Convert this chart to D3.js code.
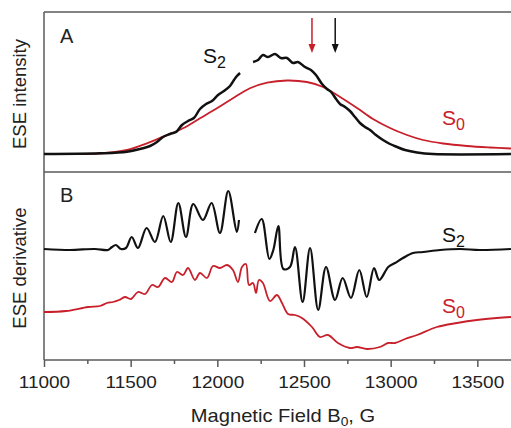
<!DOCTYPE html>
<html>
<head>
<meta charset="utf-8">
<script src="https://cdn.jsdelivr.net/npm/d3@7"></script>
<style>
  body { margin: 0; background: #fff; }
  text { font-family: "Liberation Sans", Arial, sans-serif; }
</style>
</head>
<body>
<svg width="511" height="428"></svg>
<script>
// panel A: ESE intensity (absorption)
var fieldS2A = [11000,11323,11479,11571,11612,11652,11687,11727,11762,11796,11831,11865,11900,11935,11969,12004,12038,12073,12096,12113,12131,
    12170,
    12206,12235,12263,12292,12333,12367,12402,12437,12465,12506,12540,12569,12604,12633,12656,12685,12708,12737,12765,12794,
    12823,12852,12881,12915,12956,12996,13037,13083,13152,13244,13694];
var intS2A = [0,0.007,0.023,0.057,0.08,0.12,0.17,0.20,0.22,0.29,0.33,0.36,0.45,0.50,0.53,0.59,0.63,0.68,0.74,0.78,0.81,
    null,
    0.92,0.94,0.99,0.97,1.00,0.96,0.96,0.91,0.92,0.87,0.84,0.79,0.70,0.65,0.62,0.55,0.50,0.47,0.43,0.37,
    0.31,0.27,0.24,0.19,0.14,0.10,0.07,0.04,0.015,0,0];

var fieldS0A = [11000,11323,11479,11594,11687,11802,11900,11998,12090,12188,12287,12402,12517,12610,12708,12806,12898,12996,13094,13187,13302,13440,13573,13694];
var intS0A = [0,0.005,0.04,0.107,0.173,0.257,0.357,0.457,0.557,0.657,0.713,0.735,0.72,0.67,0.57,0.46,0.35,0.26,0.19,0.14,0.105,0.08,0.065,0.055];

// arrows above panel A
var arrowFields = [12546, 12680];
var arrowColors = ["#c8202b", "#111"];

// panel B: ESE derivative
var fieldS2B = [11000,11150,11294,11369,11392,11415,11444,11473,11506,11542,11592,11640,11688,11731,11775,11819,11861,11917,11967,12015,12063,12112,12125,
    12170,
    12217,12256,12300,12323,12352,12381,12419,12448,12492,12535,12582,12627,12679,12723,12771,12819,12862,12904,12934,12986,
    13025,13071,13129,13187,13285,13400,13515,13694];
var derS2B = [0.31,0.30,0.31,0.30,0.33,0.35,0.31,0.32,0.43,0.32,0.52,0.38,0.64,0.38,0.77,0.43,0.76,0.60,0.77,0.47,0.89,0.48,0.60,
    null,
    0.47,0.61,0.21,0.30,0.54,0.11,0.13,0.33,-0.22,0.32,-0.30,0.13,-0.20,0.02,-0.18,0.10,-0.17,0.12,0.00,0.13,
    0.17,0.22,0.27,0.28,0.30,0.31,0.30,0.31];

var fieldS0B = [11000,11127,11254,11323,11363,11398,11433,11467,11502,11542,11583,11623,11658,11698,11738,11767,11802,11831,11871,11900,
    11940,11975,12015,12056,12090,12119,12142,12165,12183,12206,12223,12240,12263,12304,12344,12373,12408,12448,12488,12546,
    12592,12638,12696,12765,12806,12863,12938,12985,13025,13083,13152,13267,13383,13498,13613,13694];
var derS0B = [-0.32,-0.31,-0.27,-0.26,-0.23,-0.22,-0.20,-0.17,-0.19,-0.12,-0.14,-0.05,-0.07,0.02,-0.02,0.08,0.05,0.12,0.00,0.07,
    0.02,0.14,0.12,0.15,0.10,-0.02,0.13,0.16,-0.05,-0.03,-0.13,0.00,-0.03,-0.21,-0.15,-0.23,-0.34,-0.35,-0.38,-0.47,
    -0.57,-0.55,-0.63,-0.68,-0.67,-0.69,-0.67,-0.63,-0.63,-0.59,-0.55,-0.47,-0.43,-0.40,-0.38,-0.37];

var majorTicks = [11000,11500,12000,12500,13000,13500];
var minorTicks = [11250,11750,12250,12750,13250];

var red = "#c8202b", black = "#111";

// note: "top" is taken by window.top, so use plotTop
var svg = d3.select("svg"),
    plotLeft = 44, plotRight = 512, plotTop = 12, plotMid = 172, plotBottom = 360;

var x = d3.scaleLinear().domain([11000, 13700]).range([plotLeft, plotRight]);
var yA = d3.scaleLinear().domain([-0.18, 1.42]).range([plotMid, plotTop]);
var yB = d3.scaleLinear().domain([-0.80, 1.08]).range([plotBottom, plotMid]);

function zip(xs, ys) {
    return xs.map(function(v, i) { return {x: v, y: ys[i]}; });
}

function lineFor(y) {
    return d3.line()
        .defined(function(d) { return d.y != null; })
        .x(function(d) { return x(d.x); })
        .y(function(d) { return y(d.y); })
        .curve(d3.curveCatmullRom.alpha(0.5));
}

// frame
var frame = svg.append("g").attr("stroke", "#5a5a5a").attr("stroke-width", 1.5);
[plotTop, plotMid, plotBottom].forEach(function(yy) {
    frame.append("line").attr("x1", plotLeft).attr("x2", plotRight).attr("y1", yy).attr("y2", yy);
});
frame.append("line").attr("x1", plotLeft).attr("x2", plotLeft).attr("y1", plotTop).attr("y2", plotBottom);

// curves
svg.append("path").datum(zip(fieldS0A, intS0A))
    .attr("fill", "none").attr("stroke", red).attr("stroke-width", 1.8)
    .attr("d", lineFor(yA));
svg.append("path").datum(zip(fieldS2A, intS2A))
    .attr("fill", "none").attr("stroke", black).attr("stroke-width", 2.5)
    .attr("d", lineFor(yA));
svg.append("path").datum(zip(fieldS0B, derS0B))
    .attr("fill", "none").attr("stroke", red).attr("stroke-width", 1.8)
    .attr("d", lineFor(yB));
svg.append("path").datum(zip(fieldS2B, derS2B))
    .attr("fill", "none").attr("stroke", black).attr("stroke-width", 2.2)
    .attr("d", lineFor(yB));

// arrows
arrowFields.forEach(function(f, i) {
    var ax = x(f), y0 = yA(1.36), y1 = yA(1.01);
    svg.append("line").attr("x1", ax).attr("x2", ax).attr("y1", y0).attr("y2", y1 - 6)
        .attr("stroke", arrowColors[i]).attr("stroke-width", 1.5);
    svg.append("path")
        .attr("d", "M" + (ax - 3.5) + "," + (y1 - 9) + "L" + ax + "," + y1 + "L" + (ax + 3.5) + "," + (y1 - 9) + "Z")
        .attr("fill", arrowColors[i]);
});

// x axis
var xAxis = svg.append("g")
    .attr("transform", "translate(0," + plotBottom + ")")
    .call(d3.axisBottom(x).tickValues(majorTicks).tickSize(7).tickPadding(9.5).tickFormat(d3.format("d")));
xAxis.select(".domain").remove();
xAxis.selectAll(".tick line").attr("stroke", "#5a5a5a").attr("stroke-width", 1.5);
xAxis.selectAll(".tick text")
    .attr("fill", "#222")
    .style("font-size", "16.5px")
    .attr("transform", "scale(1.15,1)");

var xMinor = svg.append("g")
    .attr("transform", "translate(0," + plotBottom + ")")
    .call(d3.axisBottom(x).tickValues(minorTicks).tickSize(4).tickFormat(""));
xMinor.select(".domain").remove();
xMinor.selectAll(".tick line").attr("stroke", "#5a5a5a").attr("stroke-width", 1.5);

var title = svg.append("text")
    .attr("transform", "translate(283,422) scale(1.15,1)")
    .attr("text-anchor", "middle")
    .attr("fill", "#222")
    .style("font-size", "17.5px");
title.append("tspan").text("Magnetic Field B");
title.append("tspan").attr("dy", 4).style("font-size", "12px").text("0");
title.append("tspan").attr("dy", -4).text(", G");

svg.append("text")
    .attr("transform", "translate(26,94) rotate(-90)")
    .attr("text-anchor", "middle").attr("fill", "#222")
    .style("font-size", "18.5px")
    .text("ESE intensity");
svg.append("text")
    .attr("transform", "translate(26,268) rotate(-90)")
    .attr("text-anchor", "middle").attr("fill", "#222")
    .style("font-size", "18.5px")
    .text("ESE derivative");

// panel letters
svg.append("text").attr("x", 60).attr("y", 43).attr("fill", "#222").style("font-size", "20px").text("A");
svg.append("text").attr("x", 60).attr("y", 202).attr("fill", "#222").style("font-size", "20px").text("B");

// series labels
function seriesLabel(px, py, sub, color) {
    var t = svg.append("text").attr("x", px).attr("y", py).attr("fill", color).style("font-size", "21px");
    t.append("tspan").text("S");
    t.append("tspan").attr("dy", 5).style("font-size", "16px").text(sub);
}
seriesLabel(203, 63, "2", black);
seriesLabel(442, 125, "0", red);
seriesLabel(442, 242, "2", black);
seriesLabel(442, 313, "0", red);
</script>
</body>
</html>
